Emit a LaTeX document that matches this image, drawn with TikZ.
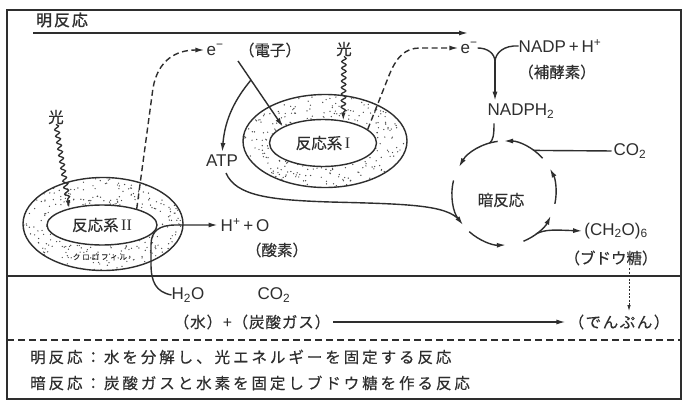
\documentclass[tikz,border=0pt]{standalone}
\usepackage{fontspec}
\setmainfont{Liberation Sans}
\newfontfamily\jp{Noto Sans CJK JP}[FakeBold=0.35]
\newfontfamily\jpb{Noto Sans CJK JP}[FakeBold=1.2]
\newfontfamily\serif{Liberation Serif}
\usetikzlibrary{arrows.meta,shapes.geometric,decorations.pathmorphing,calc}
\definecolor{ink}{HTML}{2E2E2E}
\definecolor{dotc}{HTML}{4A4A4A}
\tikzset{
 ln/.style={draw=ink,line width=1.4pt},
 arr/.style={ln,-{Latex[length=9pt,width=5pt]}},
 dsh/.style={ln,dash pattern=on 6pt off 3.5pt},
 jt/.style={font=\jp\fontsize{15.5}{15.5}\selectfont,text=ink,inner sep=0pt},
 lt/.style={font=\fontsize{17}{17}\selectfont,text=ink,inner sep=0pt},
 ell/.style={ellipse,draw=ink,line width=1.4pt,inner sep=0pt},
 wavy/.style={ln,line width=1.3pt,decorate,decoration={snake,amplitude=2.2pt,segment length=6.5pt,post length=8pt}},
}
\begin{document}
\begin{tikzpicture}[x=1pt,y=-1pt]
\useasboundingbox (0,0) rectangle (684,401);
\fill[white] (0,0) rectangle (684,401);
\draw[ln] (7,10) rectangle (681,399);
\coordinate (L1) at (7,276); \coordinate (R1) at (681,276);
\draw[ln] (L1) -- (R1);
\coordinate (L2) at (7,340); \coordinate (R2) at (681,340);
\draw[ln,line width=1.2pt,dash pattern=on 7pt off 4pt] (L2) -- (R2);

% title
\node[jt,font=\jpb\fontsize{16}{16}\selectfont\addfontfeature{LetterSpace=12}] (title) at (62,20) {明反応};
\coordinate (ta) at (33,33); \coordinate (tb) at (468,33);
\draw[arr] (ta) -- (tb);

% photosystem II
\begin{scope}
\clip (103,224) ellipse [x radius=80,y radius=46];
\pgfmathsetseed{11}
\foreach \i in {1,...,430}{\fill[dotc] ({103+80*rand},{224+46*rand}) circle[radius=0.7];}
\end{scope}
\node[ell,minimum width=160pt,minimum height=93pt] (ps2o) at (103,224) {};
\node[ell,jt,fill=white,minimum width=110pt,minimum height=40pt] (ps2i) at (102,225) {反応系\,{\serif\fontsize{16}{16}\selectfont II}};
\node[jt,font=\jp\fontsize{7.5}{7.5}\selectfont\addfontfeature{LetterSpace=25}] (chl) at (100,257) {クロロフィル};

% photosystem I
\begin{scope}
\clip (325,141) ellipse [x radius=82,y radius=46];
\pgfmathsetseed{23}
\foreach \i in {1,...,430}{\fill[dotc] ({325+82*rand},{141+46*rand}) circle[radius=0.7];}
\end{scope}
\node[ell,minimum width=164pt,minimum height=93pt] (ps1o) at (325,141) {};
\node[ell,jt,fill=white,minimum width=107pt,minimum height=47pt] (ps1i) at (323,143) {反応系\,{\serif\fontsize{16}{16}\selectfont I}};

% texts
\node[jt] (l1) at (56,117) {光};
\node[jt] (l2) at (344,49) {光};
\node[lt] (e1) at (215,50) {e\textsuperscript{−}};
\node[jt] (denshi) at (270,50) {（電子）};
\node[lt] (e2) at (469,48) {e\textsuperscript{−}};
\node[lt] (nadp) at (560,46) {NADP\,+\,H\textsuperscript{+}};
\node[jt] (hoko) at (557,72) {（補酵素）};
\node[lt] (nadph) at (521,111) {NADPH\textsubscript{2}};
\node[lt] (atp) at (222,161) {ATP};
\node[jt] (dark) at (501,200) {暗反応};
\node[lt] (co2a) at (630,151) {CO\textsubscript{2}};
\node[lt] (ch2o) at (616,231) {(CH\textsubscript{2}O)\textsubscript{6}};
\node[jt] (bud) at (611,258) {（ブドウ糖）};
\node[lt] (hpo) at (245,225) {H\textsuperscript{+}\,+\,O};
\node[jt] (sanso) at (277,250) {（酸素）};
\node[lt] (h2o) at (188,295) {H\textsubscript{2}O};
\node[lt] (co2b) at (274,295) {CO\textsubscript{2}};
\node[jt,font=\jp\fontsize{15.5}{15.5}\selectfont\addfontfeature{LetterSpace=6}] (wc) at (252,322) {（水）+（炭酸ガス）};
\node[jt,font=\jp\fontsize{15.5}{15.5}\selectfont\addfontfeature{LetterSpace=10}] (den) at (619,322) {（でんぷん）};
\node[jt,anchor=west,font=\jp\fontsize{15.5}{15.5}\selectfont\addfontfeature{LetterSpace=19}] (t1) at (30,357) {明反応：水を分解し、光エネルギーを固定する反応};
\node[jt,anchor=west,font=\jp\fontsize{15.5}{15.5}\selectfont\addfontfeature{LetterSpace=19}] (t2) at (30,383) {暗反応：炭酸ガスと水素を固定しブドウ糖を作る反応};

% light arrows
\draw[wavy,-{Latex[length=8pt,width=4.6pt]}] (l1.south) -- (ps2i.153);
\draw[wavy,-{Latex[length=8pt,width=4.6pt]}] (l2.south) -- (ps1i.48);

% electron paths (dashed)
\draw[dsh,-{Latex[length=9pt,width=5pt]},shorten >=2pt] (ps2i.25) -- (153,88) .. controls (158,60) and (176,50) .. (e1.west);
\draw[dsh,-{Latex[length=9pt,width=5pt]},shorten >=2pt] (ps1i.17) -- (388,78) .. controls (396,57) and (405,48) .. (420,48) -- (e2.west);

% e- to PS I and ATP
\coordinate (eS) at (238,61);
\coordinate (br) at (251,80);
\draw[arr] (eS) -- (ps1i.158);
\draw[arr,shorten >=3pt] (br) .. controls (236,98) and (225,118) .. (atp.north);

% Y junction to NADPH2
\coordinate (j) at (495,62);
\draw[ln] (e2.east) .. controls (487,48) and (495,53) .. (j);
\draw[ln] (nadp.west) .. controls (504,45) and (495,53) .. (j);
\draw[arr,shorten >=3pt] (j) -- (j |- nadph.north);

% dark reaction cycle
\coordinate (cc) at (504,193);
\draw[arr] ($(cc)+(-97:52)$) arc[start angle=-97,end angle=-150,radius=52];
\draw[arr] ($(cc)+(-166:52)$) arc[start angle=-166,end angle=-218,radius=52];
\draw[arr] ($(cc)+(-228:52)$) arc[start angle=-228,end angle=-272,radius=52];
\draw[arr] ($(cc)+(-292:52)$) arc[start angle=-292,end angle=-334,radius=52];
\draw[arr] ($(cc)+(-348:52)$) arc[start angle=-348,end angle=-388,radius=52];
\draw[arr] ($(cc)+(-42:52)$) arc[start angle=-42,end angle=-90,radius=52];

% joins into cycle
\draw[ln] ([shift={(-27pt,-5pt)}]nadph.south) .. controls (494,136) and (493,140) .. ($(cc)+(-106:52)$);
\draw[ln] ([shift={(4pt,-6pt)}]atp.south) .. controls (236,196) and (270,200) .. (330,202) .. controls (410,204) and (447,205) .. ($(cc)+(-212:52)$);
\draw[ln,shorten <=2pt] (co2a.west) -- ($(cc)+(-55:52)$);
\draw[arr,shorten >=2pt] ($(cc)+(-308:52)$) .. controls (545,229) and (556,230) .. (ch2o.west);

% water path
\draw[arr,shorten >=3pt] (h2o.west) .. controls (156,292) and (151,282) .. (151,264) -- (151,245) .. controls (151,231) and (159,225) .. (176,225) -- (hpo.west);

% overall arrow and starch
\draw[arr,shorten <=3pt,shorten >=3pt] (wc.east) -- (den.west);
\coordinate (sa) at (629,268);
\coordinate (sb) at (629,311);
\draw[ln,line width=0.8pt,dash pattern=on 2pt off 1.5pt,-{Latex[length=6pt,width=3.5pt]}] (sa) -- (sb);
\end{tikzpicture}
\end{document}
